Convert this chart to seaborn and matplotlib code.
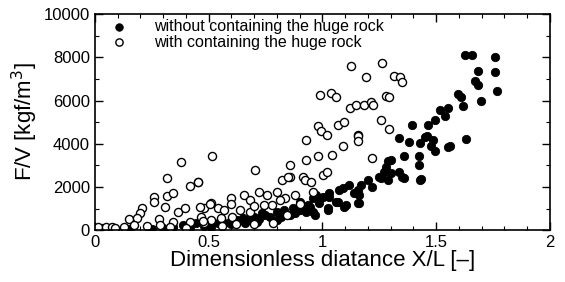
import numpy as np
import pandas as pd
import matplotlib
matplotlib.use("Agg")
import matplotlib.pyplot as plt
import seaborn as sns
from matplotlib.ticker import MultipleLocator

# without containing the huge rock (filled)
x_without = [1.626, 1.657, 1.76, 1.684, 1.76, 1.67, 1.683, 1.77, 1.596, 1.61, 1.699, 1.617,
             1.517, 1.553, 1.54, 1.496, 1.466, 1.394, 1.335, 1.38, 1.43, 1.46, 1.487, 1.633,
             1.48, 1.56, 1.452, 1.496, 1.553, 1.357, 1.423, 1.423, 1.29, 1.335, 1.35, 1.43,
             1.29, 1.27, 1.30, 1.257, 1.2, 1.22, 1.17, 1.118, 1.14, 1.075, 1.03, 1.003, 0.974,
             1.068, 1.104, 1.155, 1.025, 0.938, 0.9, 0.93, 0.967, 0.96, 0.987, 0.873, 0.83,
             0.8, 0.77, 0.735, 0.7, 0.67, 0.626, 0.596, 0.568, 0.54, 0.51, 0.713, 0.8, 0.343,
             0.386, 0.446, 1.3, 1.278, 1.25, 1.358, 1.435, 1.155, 1.09, 1.03, 1.162, 1.162,
             1.06, 1.097, 1.025, 0.945, 0.96, 0.9, 0.86, 0.75, 0.65, 0.6, 0.48, 0.42, 0.30,
             0.25, 0.15, 0.08, 0.03, 0.66, 0.72, 0.82, 0.88, 0.91]
y_without = [8100, 8100, 8030, 7360, 7320, 6900, 6740, 6430, 6320, 6140, 5970, 5740,
             5550, 5670, 5270, 5120, 4880, 4880, 4280, 4100, 4030, 4340, 4190, 4220,
             3880, 3880, 4310, 3640, 3850, 3410, 3410, 3020, 3180, 2710, 2480, 2320,
             2320, 2710, 2640, 2400, 2320, 2010, 2100, 2100, 1700, 1860, 1550, 1550, 1630,
             1320, 1160, 1240, 930, 1160, 1320, 850, 700, 1475, 1240, 1010, 930,
             850, 620, 775, 620, 465, 465, 390, 310, 310, 155, 390, 465, 155,
             230, 310, 3250, 2940, 2480, 2400, 2360, 1860, 1940, 1700, 1630, 1240,
             1320, 1085, 1010, 1085, 850, 930, 700, 700, 550, 300, 200, 100, 80,
             60, 60, 80, 100, 350, 500, 600, 800, 1100]

# with containing the huge rock (open)
x_with = [1.126, 1.264, 1.19, 1.313, 1.343, 1.35, 0.988, 1.04, 1.058, 1.12, 1.148, 1.184,
          1.213, 1.223, 1.278, 1.293, 1.257, 1.293, 1.068, 1.097, 0.981, 0.996, 1.02, 1.155,
          0.93, 1.09, 1.155, 1.155, 0.93, 0.98, 1.043, 1.22, 0.916, 0.923, 0.952, 1.003,
          1.02, 0.96, 0.517, 0.706, 0.858, 0.822, 0.858, 0.452, 0.597, 0.655, 0.684, 0.72,
          0.757, 0.8, 0.836, 0.88, 0.778, 0.814, 0.51, 0.48, 0.54, 0.568, 0.64, 0.684,
          0.742, 0.467, 0.51, 0.553, 0.604, 0.48, 0.843, 0.785, 0.38, 0.316, 0.417, 0.453,
          0.258, 0.258, 0.319, 0.345, 0.309, 0.367, 0.396, 0.207, 0.2, 0.149, 0.185, 0.28,
          0.46, 0.504, 0.012, 0.048, 0.077, 0.127, 0.17, 0.229, 0.287, 0.345, 0.417, 0.475,
          0.33, 0.85, 0.6, 0.7, 0.9, 0.62, 0.7, 0.56, 0.4, 0.09]
y_with = [7600, 7720, 7085, 7140, 7070, 6840, 6250, 6355, 6170, 5660, 5770, 5780,
          5920, 5780, 6200, 6170, 5120, 4680, 4880, 4990, 4800, 4570, 4420, 4420,
          4160, 3880, 4340, 4110, 3260, 3410, 3490, 3330, 2480, 2320, 2250, 2560,
          2710, 1780, 3440, 2790, 3020, 2320, 2450, 2250, 1475, 1630, 1395, 1780,
          1630, 1780, 1475, 1630, 1160, 1395, 1240, 1010, 1010, 930, 930, 850,
          1160, 620, 465, 540, 620, 310, 700, 310, 3150, 2400, 2050, 2220,
          1520, 1320, 1600, 1700, 1085, 850, 1010, 1010, 775, 500, 540, 510,
          1050, 1210, 125, 125, 155, 155, 230, 190, 230, 390, 390, 430,
          155, 2480, 1200, 1100, 1200, 300, 300, 200, 100, 80]

df_wo = pd.DataFrame({"x": x_without, "y": y_without})
df_w = pd.DataFrame({"x": x_with, "y": y_with})

sns.set_style("ticks")
plt.rcParams['font.family'] = ['Liberation Sans', 'DejaVu Sans']
plt.rcParams['text.color'] = 'black'
plt.rcParams['axes.labelcolor'] = 'black'
plt.rcParams['xtick.color'] = 'black'
plt.rcParams['ytick.color'] = 'black'

fig = plt.figure(figsize=(5.65, 2.82), dpi=100)
ax = fig.add_axes([0.168, 0.184, 0.805, 0.766])

sns.scatterplot(data=df_wo, x="x", y="y", ax=ax, color="black", edgecolor="black",
                s=36, linewidth=0.6, label="without containing the huge rock")
sns.scatterplot(data=df_w, x="x", y="y", ax=ax, color="white", edgecolor="black",
                s=34, linewidth=1.0, label="with containing the huge rock")

ax.set_xlim(0, 2)
ax.set_ylim(0, 10000)
ax.xaxis.set_major_locator(MultipleLocator(0.5))
ax.xaxis.set_minor_locator(MultipleLocator(0.1))
ax.yaxis.set_major_locator(MultipleLocator(2000))
ax.yaxis.set_minor_locator(MultipleLocator(1000))
ax.set_xticks([0, 0.5, 1, 1.5, 2], ["0", "0.5", "1", "1.5", "2"])
ax.tick_params(which="both", direction="in", top=True, right=True, labelsize=12, color="black")
ax.tick_params(which="major", length=6, width=1)
ax.tick_params(which="minor", length=3, width=0.8)
for sp in ax.spines.values():
    sp.set_linewidth(1.2)
    sp.set_color("black")

ax.set_xlabel("Dimensionless diatance X/L [\u2013]", fontsize=16, labelpad=0)
ax.set_ylabel("F/V [kgf/m$^3$]", fontsize=16, labelpad=3)

ax.legend(loc="upper left", bbox_to_anchor=(0.0, 1.015), frameon=False, fontsize=11.5,
          handletextpad=1.2, borderaxespad=0.1, labelspacing=0.05, markerscale=0.9)

fig.savefig("out.png", dpi=100)
